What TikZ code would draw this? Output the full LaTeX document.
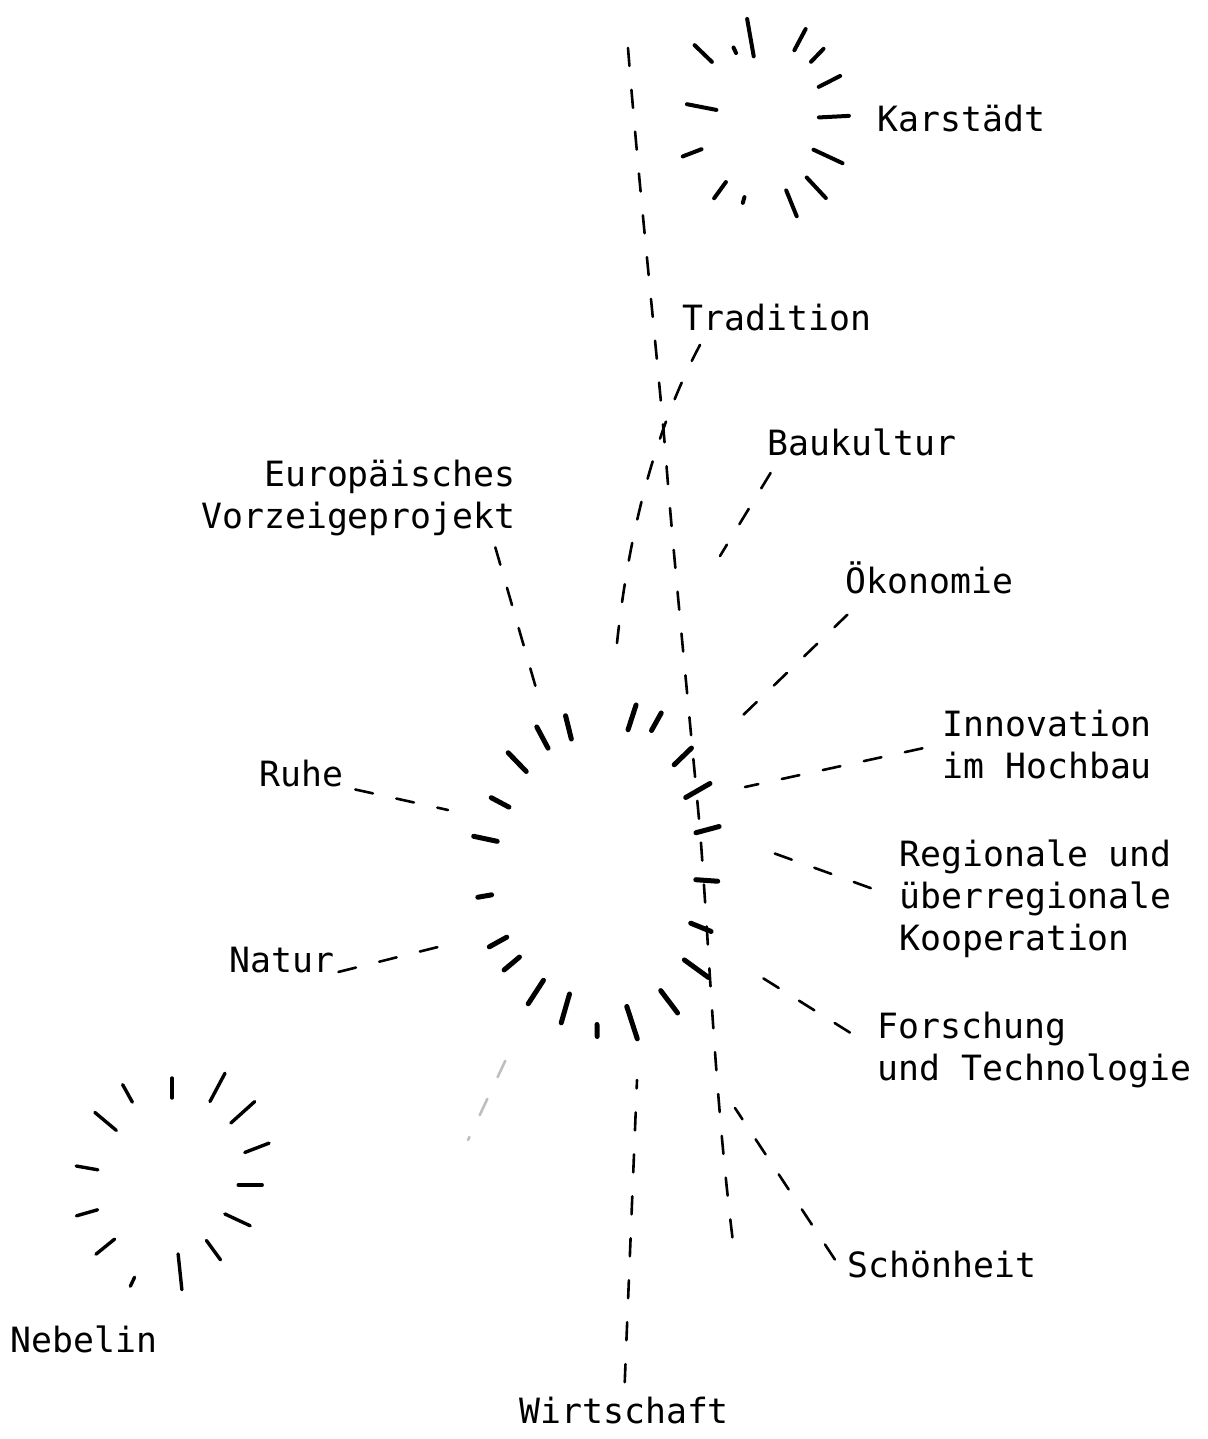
\documentclass[tikz,border=0pt]{standalone}
\usepackage{fontspec}
\setmonofont{DejaVu Sans Mono}
\usetikzlibrary{shapes.geometric}

\tikzset{
  lbl/.style={font=\ttfamily\fontsize{17.4}{21}\selectfont, inner sep=0pt, align=left, anchor=base west},
  link/.style={line width=1.3pt, line cap=round, dash pattern=on 9pt off 12pt},
  faint/.style={link, draw=black!25},
  hub/.style={ellipse, inner sep=0pt},
  ray/.style={line width=2.5pt, line cap=round},
}

\begin{document}
\begin{tikzpicture}[x=0.5pt,y=-0.5pt]
  \useasboundingbox (0,0) rectangle (1208,1439);

  % the three places
  \node[hub, minimum width=124pt, minimum height=162pt] (core) at (595,870) {};
  \node[hub, minimum width=84pt, minimum height=96pt] (kar) at (763,121) {};
  \node[hub, minimum width=97pt, minimum height=109pt] (neb) at (172,1185) {};

  % rays round them
  \begin{scope}[shift={(core.center)}]
    \foreach \t/\k/\l in {104/.98/12, 118/1/12, 134/1/13, 152/.96/10, 168/1/12, 190/1/7, 209/.99/10,
        220/.97/10, 237/.97/14, 254/.96/15, 271/1.07/6, 288/1.07/17, 307/1.1/14, 324/1.12/15,
        338/1.02/11, 356/1/11, 15/1.04/12, 30/1.06/14, 44/1.09/12, 61/1.13/10, 72/1.07/13}
      \draw[ray] (-\t:{112*\k-\l} and {150*\k-\l}) -- (-\t:{112*\k+\l} and {150*\k+\l});
  \end{scope}
  \begin{scope}[shift={(kar.center)}]
    \foreach \t/\k/\l in {136/1.17/12, 115/.94/3, 100/1.02/19, 62/1.11/12, 46/1.1/9, 27/1.05/12,
        3/1/15, 335/1.01/16, 313/1.1/14, 292/1.07/14, 254/.99/3, 234/1.03/10, 201/1.07/10, 169/.88/15}
      \draw[ray, line width=2pt] (-\t:{71*\k-\l} and {83*\k-\l}) -- (-\t:{71*\k+\l} and {83*\k+\l});
  \end{scope}
  \begin{scope}[shift={(neb.center)}]
    \foreach \t/\k/\l in {119/1.08/10, 90/1/10, 62/1.14/16, 42/1.12/16, 21/1.07/13, 0/.92/12,
        335/.85/14, 306/.83/12, 276/.9/18, 245/1.1/5, 219/1.01/12, 196/1.04/11, 170/1.015/11, 140/1.02/14}
      \draw[ray, line width=1.7pt] (-\t:{85*\k-\l} and {97*\k-\l}) -- (-\t:{85*\k+\l} and {97*\k+\l});
  \end{scope}

  % labels (multi-line ones sit on their last line)
  \node[lbl] (karst) at (877,132) {Karstädt};
  \node[lbl] (trad) at (682,330) {Tradition};
  \node[lbl] (bau) at (767,455) {Baukultur};
  \node[lbl, align=right, anchor=base east] (euro) at (516,528) {Europäisches\\Vorzeigeprojekt};
  \node[lbl] (oeko) at (845,593) {Ökonomie};
  \node[lbl] (inno) at (942,778) {Innovation\\im Hochbau};
  \node[lbl] (ruhe) at (259,786) {Ruhe};
  \node[lbl] (reg) at (899,950) {Regionale und\\überregionale\\Kooperation};
  \node[lbl] (natur) at (229,972) {Natur};
  \node[lbl] (forsch) at (877,1080) {Forschung\\und Technologie};
  \node[lbl] (schoen) at (847,1277) {Schönheit};
  \node[lbl] (nebl) at (10,1352) {Nebelin};
  \node[lbl] (wirt) at (519,1423) {Wirtschaft};

  % loose ends of the dashed links
  \coordinate (north) at (628,48);
  \coordinate (south) at (734,1250);
  \coordinate (trad-e) at (617,643);
  \coordinate (bau-e) at (720,556);
  \coordinate (oeko-e) at (738,720);
  \coordinate (inno-e) at (745,787);
  \coordinate (reg-e) at (765,850);
  \coordinate (forsch-e) at (750,970);
  \coordinate (schoen-e) at (735,1108);
  \coordinate (wirt-e) at (637,1080);
  \coordinate (euro-e) at (538,695);
  \coordinate (ruhe-e) at (448,810);
  \coordinate (natur-e) at (442,946);
  \coordinate (sw) at (468,1140);

  \draw[link] (north) .. controls (640,200) and (660,380) .. (667,472)
    .. controls (674,560) and (688,700) .. (700,830) .. controls (710,960) and (715,1100) .. (south);
  \draw[link] ([xshift=9pt,yshift=-7pt]trad.south west) .. controls (660,420) and (630,520) .. (trad-e);
  \draw[link, shorten <=10pt] ([xshift=7pt]bau.south west) -- (bau-e);
  \draw[link, shorten <=15pt] ([xshift=12pt]oeko.south west) -- (oeko-e);
  \draw[link, shorten <=10pt] (inno.west) -- (inno-e);
  \draw[link, shorten <=15pt] (reg.west) -- (reg-e);
  \draw[link, shorten <=16pt] (forsch.west) -- (forsch-e);
  \draw[link, shorten <=11pt] (schoen.south west) -- (schoen-e);
  \draw[link, shorten <=7pt] (wirt.north) -- (wirt-e);
  \draw[link, shorten <=6pt] ([xshift=-12pt]euro.south east) -- (euro-e);
  \draw[link, shorten <=6pt] (ruhe.south east) -- (ruhe-e);
  \draw[link, shorten <=2pt] (natur.south east) -- (natur-e);
  \draw[faint, shorten <=29pt] (core) -- (sw);
\end{tikzpicture}
\end{document}
